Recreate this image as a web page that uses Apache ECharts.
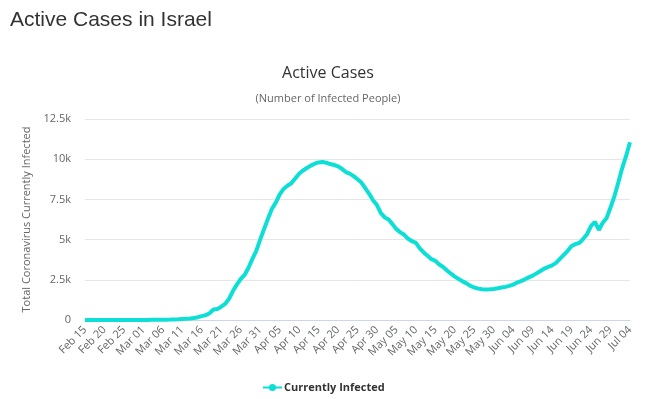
<!DOCTYPE html>
<html>
<head>
<meta charset="utf-8">
<script src="https://cdn.jsdelivr.net/npm/echarts@6/dist/echarts.min.js"></script>
<style>
  html, body { margin: 0; padding: 0; background: #fff; }
  #chart { width: 664px; height: 399px; }
</style>
</head>
<body>
<div id="chart"></div>
<script>
// days from Feb 15 to Jul 04 (2020)
const startDate = [2020, 1, 15];
const dayCount = 141;
const monthNames = ['Jan','Feb','Mar','Apr','May','Jun','Jul','Aug','Sep','Oct','Nov','Dec'];

const categories = [];
for (let i = 0; i < dayCount; i++) {
  const d = new Date(startDate[0], startDate[1], startDate[2] + i);
  const dd = String(d.getDate()).padStart(2, '0');
  categories.push(monthNames[d.getMonth()] + ' ' + dd);
}

// currently infected
const activeCases = [
  0, 0, 0, 0, 0, 0, 1, 1, 1, 1,
  2, 2, 3, 3, 4, 6, 7, 9, 10, 12,
  15, 19, 24, 34, 41, 57, 72, 96, 122, 175,
  240, 300, 420, 650, 690, 830, 1000, 1320, 1800, 2200,
  2550, 2800, 3250, 3800, 4300, 5000, 5650, 6300, 6900, 7300,
  7800, 8150, 8350, 8500, 8800, 9100, 9300, 9450, 9600, 9720,
  9800, 9830, 9780, 9700, 9640, 9560, 9400, 9200, 9100, 8950,
  8750, 8550, 8200, 7850, 7450, 7150, 6650, 6380, 6250, 5950,
  5650, 5450, 5300, 5050, 4900, 4800, 4450, 4200, 4000, 3780,
  3680, 3450, 3300, 3080, 2880, 2700, 2550, 2400, 2280, 2120,
  2020, 1950, 1910, 1900, 1910, 1930, 1970, 2020, 2060, 2120,
  2200, 2330, 2420, 2530, 2650, 2760, 2900, 3050, 3200, 3300,
  3400, 3550, 3800, 4050, 4300, 4600, 4720, 4800, 5050, 5350,
  5850, 6100, 5600, 6050, 6350, 7000, 7700, 8550, 9450, 10200,
  11050
];

const chart = echarts.init(document.getElementById('chart'));
chart.setOption({
  animation: false,
  title: [
    {
      text: 'Active Cases in Israel',
      left: 5, top: 5,
      textStyle: { fontFamily: 'Liberation Sans', fontSize: 21, fontWeight: 'normal', color: '#333' }
    },
    {
      text: 'Active Cases',
      subtext: '(Number of Infected People)',
      left: 323, top: 60,
      textAlign: 'center',
      itemGap: 12,
      textStyle: { fontFamily: 'Open Sans', fontSize: 16, fontWeight: 'normal', color: '#333' },
      subtextStyle: { fontFamily: 'Open Sans', fontSize: 11, color: '#666' }
    }
  ],
  legend: {
    left: 257, top: 377,
    itemWidth: 19, itemHeight: 9,
    itemGap: 5,
    textStyle: { fontFamily: 'Open Sans', fontSize: 11, fontWeight: 'bold', color: '#333', padding: [0, 0, 0, -3] },
    data: ['Currently Infected']
  },
  grid: { left: 85, right: 34, top: 119, bottom: 79 },
  xAxis: {
    type: 'category',
    boundaryGap: false,
    data: categories,
    axisLine: { lineStyle: { color: '#ccd6eb' } },
    axisTick: { show: false },
    axisLabel: {
      interval: 4, rotate: 45, margin: 8,
      fontFamily: 'Open Sans', fontSize: 11, color: '#666'
    }
  },
  yAxis: {
    type: 'value',
    min: 0, max: 12500, interval: 2500,
    name: 'Total Coronavirus Currently Infected',
    nameLocation: 'middle',
    nameGap: 50,
    nameTextStyle: { fontFamily: 'Open Sans', fontSize: 11, color: '#666' },
    axisLine: { show: false },
    axisTick: { show: false },
    axisLabel: {
      margin: 14,
      fontFamily: 'Open Sans', fontSize: 11, color: '#666',
      formatter: v => v === 0 ? '0' : (v / 1000) + 'k'
    },
    splitLine: { lineStyle: { color: '#e6e6e6' } }
  },
  series: [{
    name: 'Currently Infected',
    type: 'line',
    data: activeCases,
    symbol: 'circle',
    symbolSize: 8,
    showSymbol: false,
    smooth: false,
    itemStyle: { color: '#0ddfd6' },
    lineStyle: { color: '#0ddfd6', width: 4 }
  }]
});
</script>
</body>
</html>
